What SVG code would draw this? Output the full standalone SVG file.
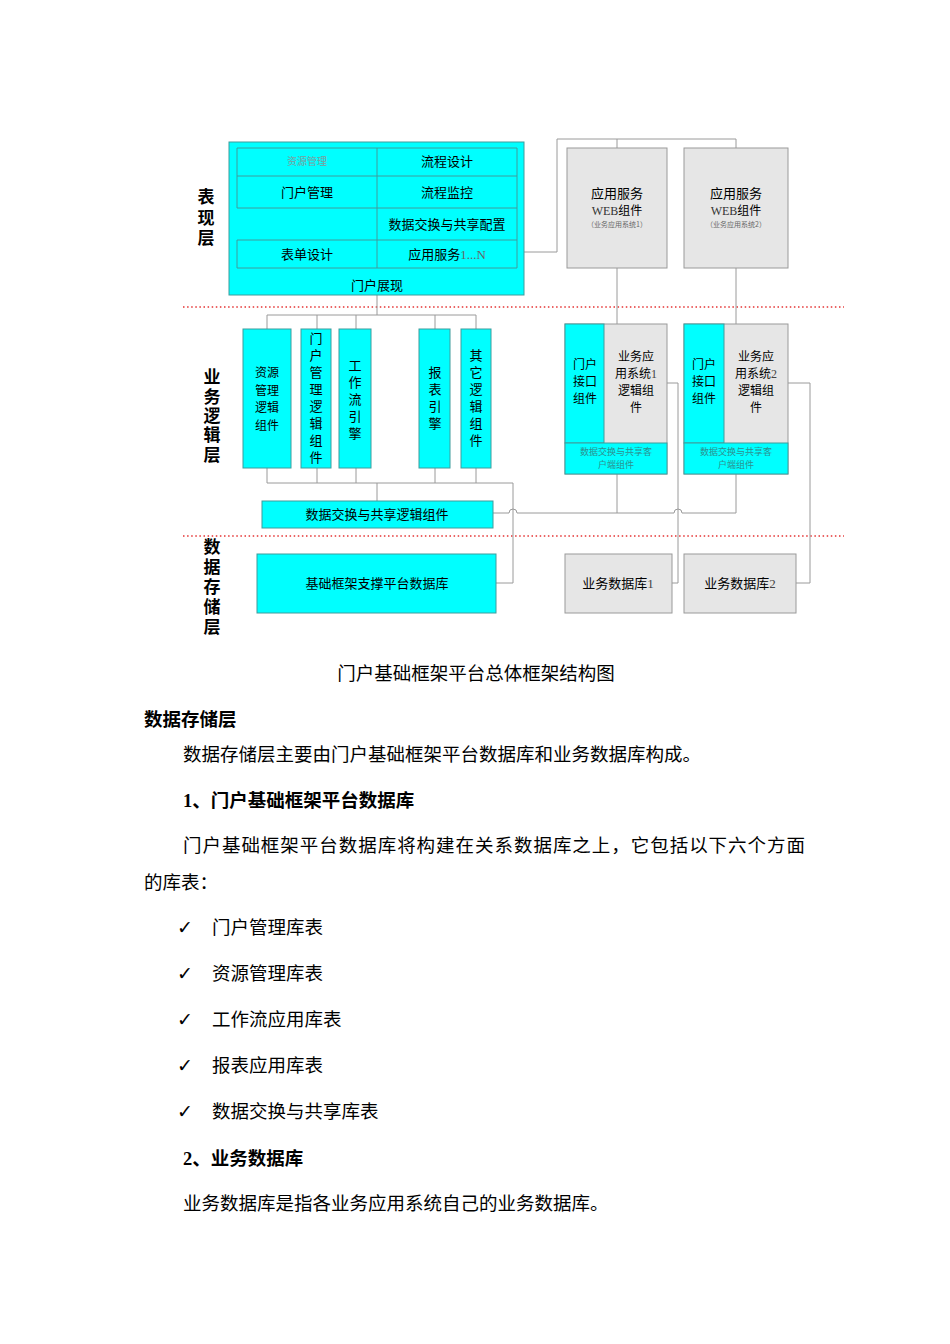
<svg xmlns="http://www.w3.org/2000/svg" width="950" height="1344" viewBox="0 0 950 1344">
<style>
.t{font-family:"Noto Sans CJK SC","Noto Sans",sans-serif;fill:#000}
.c{text-anchor:middle}
.d{font-size:13px}
.s12{font-size:12px}
.v{writing-mode:vertical-rl;text-anchor:start}
.lay{font-size:17px;font-weight:bold}
.cy{fill:#00ffff;stroke:#3e9c9c;stroke-width:1}
.gr{fill:#e6e6e6;stroke:#9a9a9a;stroke-width:1}
.gl{stroke:#3e9c9c;stroke-width:1;fill:none}
.cn{stroke:#9a9a9a;stroke-width:1;fill:none}
.sep{stroke:#e53333;stroke-width:1.5;stroke-dasharray:1.5 2.6;fill:none}
.body{font-size:18.5px}
.hb{font-size:18.5px;font-weight:bold}
.sm{font-size:9px;fill:#2e8f8f}
.ser{font-family:"Liberation Serif",serif}
.ck{font-family:"DejaVu Sans",sans-serif;font-size:19px}
</style>
<rect width="950" height="1344" fill="#fff"/>

<!-- separators -->
<line class="sep" x1="183" y1="307" x2="844" y2="307"/>
<line class="sep" x1="183" y1="536" x2="844" y2="536"/>

<!-- layer labels -->
<text class="t lay v" x="206" y="188.5" style="letter-spacing:3.5px">表现层</text>
<text class="t lay v" x="212" y="368.5" style="letter-spacing:2.3px">业务逻辑层</text>
<text class="t lay v" x="212" y="538.5" style="letter-spacing:3px">数据存储层</text>

<!-- connectors -->
<g id="connectors">
<polyline class="cn" points="517,252 557,252 557,139 736,139 736,148"/>
<line class="cn" x1="617" y1="139" x2="617" y2="148"/>
<line class="cn" x1="617" y1="268" x2="617" y2="324"/>
<line class="cn" x1="736" y1="268" x2="736" y2="324"/>
<line class="cn" x1="377" y1="295" x2="377" y2="315"/>
<line class="cn" x1="267" y1="315" x2="476" y2="315"/>
<line class="cn" x1="267" y1="315" x2="267" y2="329"/>
<line class="cn" x1="317" y1="315" x2="317" y2="329"/>
<line class="cn" x1="356" y1="315" x2="356" y2="329"/>
<line class="cn" x1="435" y1="315" x2="435" y2="329"/>
<line class="cn" x1="476" y1="315" x2="476" y2="329"/>
<line class="cn" x1="267" y1="468" x2="267" y2="483"/>
<line class="cn" x1="317" y1="468" x2="317" y2="483"/>
<line class="cn" x1="356" y1="468" x2="356" y2="483"/>
<line class="cn" x1="435" y1="468" x2="435" y2="483"/>
<line class="cn" x1="476" y1="468" x2="476" y2="483"/>
<polyline class="cn" points="267,483 513,483 513,583 496,583"/>
<line class="cn" x1="377" y1="483" x2="377" y2="501"/>
<path class="cn" d="M493,513 H509 A4,4 0 0 1 517,513 H674 A4,4 0 0 1 682,513 H736"/>
<line class="cn" x1="617" y1="474" x2="617" y2="513"/>
<line class="cn" x1="736" y1="474" x2="736" y2="513"/>
<polyline class="cn" points="667,383 678,383 678,583 672,583"/>
<polyline class="cn" points="788,383 810,383 810,583 796,583"/>
</g>

<!-- presentation layer container -->
<g id="presentation">
<rect class="cy" x="229" y="142" width="295" height="153"/>
<line class="gl" x1="237" y1="148" x2="517" y2="148"/>
<line class="gl" x1="237" y1="176" x2="517" y2="176"/>
<line class="gl" x1="237" y1="208" x2="517" y2="208"/>
<line class="gl" x1="237" y1="240" x2="517" y2="240"/>
<line class="gl" x1="237" y1="268" x2="517" y2="268"/>
<line class="gl" x1="377" y1="148" x2="377" y2="268"/>
<line class="gl" x1="517" y1="148" x2="517" y2="268"/>
<line class="gl" x1="237" y1="148" x2="237" y2="208"/>
<line class="gl" x1="237" y1="240" x2="237" y2="268"/>
<text class="t c" x="307" y="165" style="font-size:10px;fill:#7f9c9c">资源管理</text>
<text class="t c d" x="447" y="166">流程设计</text>
<text class="t c d" x="307" y="197">门户管理</text>
<text class="t c d" x="447" y="197">流程监控</text>
<text class="t c d" x="447" y="229">数据交换与共享配置</text>
<text class="t c d" x="307" y="259">表单设计</text>
<text class="t c d" x="447" y="259">应用服务<tspan class="ser" style="fill:#666">1...N</tspan></text>
<text class="t c d" x="377" y="290">门户展现</text>
</g>

<g id="web1">
<rect class="gr" x="567" y="148" width="100" height="120"/>
<text class="t c d" x="617" y="198">应用服务</text>
<text class="t c s12" x="617" y="215"><tspan class="ser" style="fill:#333">WEB</tspan>组件</text>
<text class="t c" x="617" y="227" style="font-size:7px;fill:#666">（业务应用系统1）</text>
</g>
<g id="web2">
<rect class="gr" x="684" y="148" width="104" height="120"/>
<text class="t c d" x="736" y="198">应用服务</text>
<text class="t c s12" x="736" y="215"><tspan class="ser" style="fill:#333">WEB</tspan>组件</text>
<text class="t c" x="736" y="227" style="font-size:7px;fill:#666">（业务应用系统2）</text>
</g>

<!-- business logic -->
<g id="res-logic">
<rect class="cy" x="243" y="329" width="48" height="139"/>
<text class="t c s12"><tspan x="267" y="377">资源</tspan><tspan x="267" y="394.5">管理</tspan><tspan x="267" y="412">逻辑</tspan><tspan x="267" y="429.5">组件</tspan></text>
</g>
<g id="portal-logic">
<rect class="cy" x="301" y="329" width="30" height="139"/>
<text class="t d v" x="316" y="331.5" style="letter-spacing:4px">门户管理逻辑组件</text>
</g>
<g id="workflow">
<rect class="cy" x="339" y="329" width="32" height="139"/>
<text class="t d v" x="355" y="358.5" style="letter-spacing:4px">工作流引擎</text>
</g>
<g id="report">
<rect class="cy" x="419" y="329" width="31" height="139"/>
<text class="t d v" x="435" y="365.5" style="letter-spacing:4px">报表引擎</text>
</g>
<g id="other-logic">
<rect class="cy" x="461" y="329" width="30" height="139"/>
<text class="t d v" x="476" y="348.5" style="letter-spacing:4px">其它逻辑组件</text>
</g>
<g id="exchange-logic">
<rect class="cy" x="262" y="501" width="231" height="27"/>
<text class="t c d" x="377" y="519">数据交换与共享逻辑组件</text>
</g>

<g id="biz1">
<rect class="gr" x="565" y="324" width="102" height="150"/>
<rect class="cy" x="565" y="324" width="39" height="119"/>
<rect class="cy" x="565" y="443" width="102" height="31"/>
<text class="t c s12"><tspan x="585" y="369">门户</tspan><tspan x="585" y="386">接口</tspan><tspan x="585" y="403">组件</tspan></text>
<text class="t c s12"><tspan x="636" y="361">业务应</tspan><tspan x="636" y="378">用系统<tspan class="ser" style="fill:#444">1</tspan></tspan><tspan x="636" y="395">逻辑组</tspan><tspan x="636" y="412">件</tspan></text>
<text class="t c sm"><tspan x="616" y="455">数据交换与共享客</tspan><tspan x="616" y="468">户端组件</tspan></text>
</g>
<g id="biz2">
<rect class="gr" x="684" y="324" width="104" height="150"/>
<rect class="cy" x="684" y="324" width="40" height="119"/>
<rect class="cy" x="684" y="443" width="104" height="31"/>
<text class="t c s12"><tspan x="704" y="369">门户</tspan><tspan x="704" y="386">接口</tspan><tspan x="704" y="403">组件</tspan></text>
<text class="t c s12"><tspan x="756" y="361">业务应</tspan><tspan x="756" y="378">用系统<tspan class="ser" style="fill:#444">2</tspan></tspan><tspan x="756" y="395">逻辑组</tspan><tspan x="756" y="412">件</tspan></text>
<text class="t c sm"><tspan x="736" y="455">数据交换与共享客</tspan><tspan x="736" y="468">户端组件</tspan></text>
</g>

<!-- storage -->
<g id="base-db">
<rect class="cy" x="257" y="554" width="239" height="59"/>
<text class="t c d" x="377" y="588">基础框架支撑平台数据库</text>
</g>
<g id="biz-db1">
<rect class="gr" x="565" y="554" width="107" height="59"/>
<text class="t c d" x="618" y="588">业务数据库<tspan class="ser" style="fill:#444">1</tspan></text>
</g>
<g id="biz-db2">
<rect class="gr" x="684" y="554" width="112" height="59"/>
<text class="t c d" x="740" y="588">业务数据库<tspan class="ser" style="fill:#444">2</tspan></text>
</g>

<!-- document text -->
<text class="t body c" x="476" y="680">门户基础框架平台总体框架结构图</text>
<text class="t hb" x="144" y="726">数据存储层</text>
<text class="t body" x="183" y="761">数据存储层主要由门户基础框架平台数据库和业务数据库构成。</text>
<text class="t hb" x="183" y="807"><tspan class="ser">1</tspan>、门户基础框架平台数据库</text>
<text class="t body" x="183" y="852" textLength="622" lengthAdjust="spacing">门户基础框架平台数据库将构建在关系数据库之上，它包括以下六个方面</text>
<text class="t body" x="144" y="889">的库表：</text>
<g class="t body">
<text class="ck" x="177" y="934">✓</text>
<text x="212" y="934">门户管理库表</text>
<text class="ck" x="177" y="980">✓</text>
<text x="212" y="980">资源管理库表</text>
<text class="ck" x="177" y="1026">✓</text>
<text x="212" y="1026">工作流应用库表</text>
<text class="ck" x="177" y="1072">✓</text>
<text x="212" y="1072">报表应用库表</text>
<text class="ck" x="177" y="1118">✓</text>
<text x="212" y="1118">数据交换与共享库表</text>
</g>
<text class="t hb" x="183" y="1165"><tspan class="ser">2</tspan>、业务数据库</text>
<text class="t body" x="183" y="1210">业务数据库是指各业务应用系统自己的业务数据库。</text>
</svg>
